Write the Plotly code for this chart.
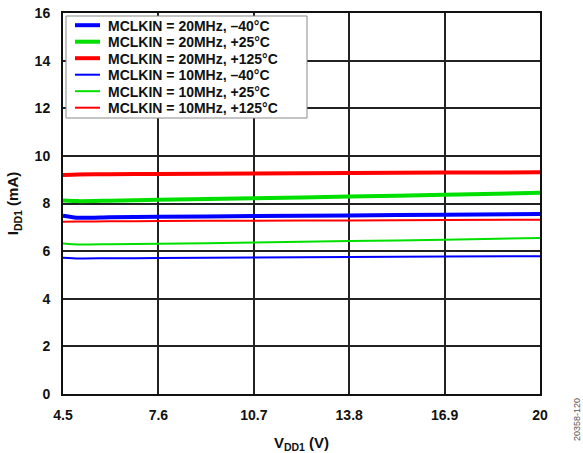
import plotly.graph_objects as go

# Supply voltage sweep (V)
vdd1 = [4.5, 5.0, 6.0, 7.6, 10.7, 13.8, 16.9, 20.0]

# IDD1 (mA) for each MCLKIN / temperature condition
idd_20m_m40 = [7.49, 7.40, 7.42, 7.44, 7.47, 7.50, 7.53, 7.56]
idd_20m_p25 = [8.13, 8.10, 8.12, 8.16, 8.22, 8.29, 8.37, 8.45]
idd_20m_p125 = [9.20, 9.22, 9.23, 9.24, 9.26, 9.28, 9.30, 9.31]
idd_10m_m40 = [5.72, 5.69, 5.70, 5.71, 5.73, 5.75, 5.77, 5.79]
idd_10m_p25 = [6.32, 6.28, 6.29, 6.31, 6.36, 6.42, 6.48, 6.55]
idd_10m_p125 = [7.23, 7.24, 7.25, 7.26, 7.28, 7.29, 7.31, 7.32]

series_names = [
    "MCLKIN = 20MHz, \u201340°C",
    "MCLKIN = 20MHz, +25°C",
    "MCLKIN = 20MHz, +125°C",
    "MCLKIN = 10MHz, \u201340°C",
    "MCLKIN = 10MHz, +25°C",
    "MCLKIN = 10MHz, +125°C",
]
series_values = [idd_20m_m40, idd_20m_p25, idd_20m_p125,
                 idd_10m_m40, idd_10m_p25, idd_10m_p125]
series_colors = ["#0000ff", "#00e000", "#ff0000", "#0000ff", "#00e000", "#ff0000"]
series_widths = [4, 4, 4, 2, 2, 2]

x_ticks = [4.5, 7.6, 10.7, 13.8, 16.9, 20]
y_ticks = list(range(0, 17, 2))

font_family = "Liberation Sans, Arial, sans-serif"
ink = "#111111"

W, H = 583, 453
M_L, M_R, M_T, M_B = 63, 43, 13, 59
PW, PH = W - M_L - M_R, H - M_T - M_B


def px_x(px):
    """Horizontal pixel position -> paper fraction."""
    return (px - M_L) / PW


def px_y(py):
    """Vertical pixel position (from top) -> paper fraction."""
    return (H - M_B - py) / PH


fig = go.Figure()
for name, ys, color, width in zip(series_names, series_values, series_colors, series_widths):
    fig.add_trace(go.Scatter(
        x=vdd1, y=ys, mode="lines", name=name, showlegend=False,
        line=dict(color=color, width=width, shape="spline", smoothing=0.6),
    ))

axis_common = dict(
    showgrid=True, gridcolor="#222222", gridwidth=1.5,
    showline=True, linecolor=ink, linewidth=2, mirror=True,
    zeroline=False, ticks="", automargin=False,
    tickfont=dict(family=font_family, size=14, color=ink),
)

fig.update_xaxes(
    range=[4.5, 20], tickvals=x_ticks,
    ticktext=[f"<b>{t:g}</b>" for t in x_ticks],
    ticklabelstandoff=7,
    title=dict(text="<b>V<sub>DD1</sub> (V)</b>",
               font=dict(family=font_family, size=15, color=ink), standoff=16),
    **axis_common,
)
fig.update_yaxes(
    range=[0, 16], tickvals=y_ticks,
    ticktext=[f"<b>{t}</b>" for t in y_ticks],
    ticklabelstandoff=8,
    title=dict(text="<b>I<sub>DD1</sub> (mA)</b>",
               font=dict(family=font_family, size=15, color=ink), standoff=12),
    **axis_common,
)

# Compact legend box drawn as shapes + text
shapes = [dict(
    type="rect", xref="paper", yref="paper",
    x0=px_x(66), x1=px_x(307), y0=px_y(118), y1=px_y(16),
    fillcolor="white", line=dict(color="#8a8a8a", width=1), layer="above",
)]
annotations = []
row0, row_step = 25.2, 16.5
for i, (name, color, width) in enumerate(zip(series_names, series_colors, series_widths)):
    yy = px_y(row0 + i * row_step)
    shapes.append(dict(
        type="line", xref="paper", yref="paper",
        x0=px_x(75), x1=px_x(100), y0=yy, y1=yy,
        line=dict(color=color, width=width), layer="above",
    ))
    annotations.append(dict(
        text=f"<b>{name}</b>", xref="paper", yref="paper",
        x=px_x(107), y=yy, xanchor="left", yanchor="middle",
        height=15, borderpad=0, valign="middle",
        showarrow=False, font=dict(family=font_family, size=14, color=ink),
    ))

annotations.append(dict(
    text="20358-120", xref="paper", yref="paper",
    x=px_x(577), y=px_y(420), xanchor="center", yanchor="middle",
    textangle=-90, showarrow=False,
    font=dict(family=font_family, size=9, color="#555555"),
))

fig.update_layout(
    width=W, height=H,
    margin=dict(l=M_L, r=M_R, t=M_T, b=M_B),
    paper_bgcolor="white", plot_bgcolor="white",
    showlegend=False,
    shapes=shapes,
    annotations=annotations,
)

fig.write_html("out.html")
